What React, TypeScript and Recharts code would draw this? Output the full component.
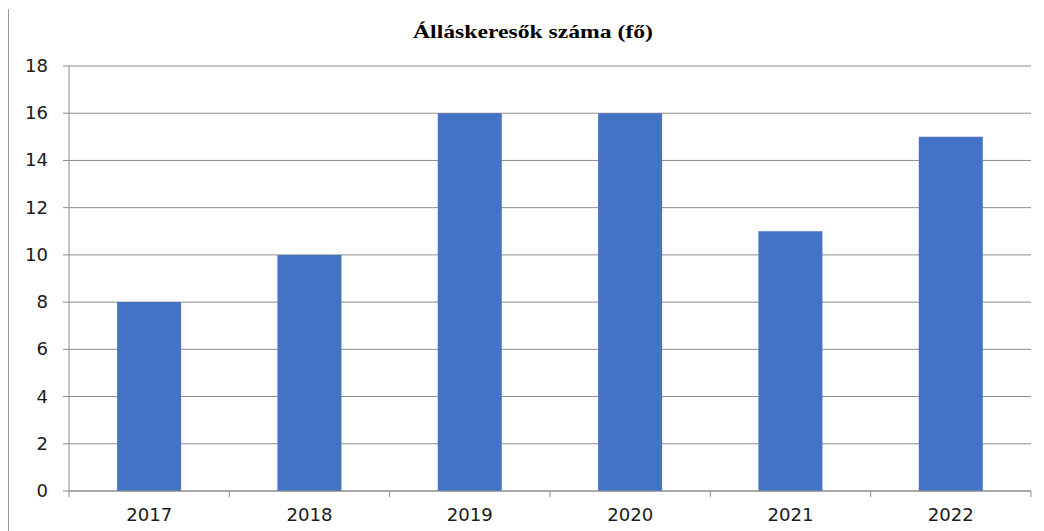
import React from "react";
import { BarChart, Bar, XAxis, YAxis, CartesianGrid } from "recharts";

const years = ["2017", "2018", "2019", "2020", "2021", "2022"];
const jobseekers = [8, 10, 16, 16, 11, 15];
const yTicks = [0, 2, 4, 6, 8, 10, 12, 14, 16, 18];
const title = "Álláskeresők száma (fő)";

const data = years.map((y, i) => ({ year: y, value: jobseekers[i] }));

const W = 1028;
const H = 523;
const M = { top: 58, right: 5, bottom: 0, left: 0 };
const Y_W = 61;
const X_H = 40;
const AXIS_Y = H - X_H;
const BAND = (W - M.right - Y_W) / years.length;
const GRID = "#8c8c8c";
const FONT = "'DejaVu Sans', Verdana, sans-serif";

const XTick = (props: any) => {
  const { x, payload, index } = props;
  return (
    <g>
      <line x1={x - BAND / 2} x2={x - BAND / 2} y1={AXIS_Y} y2={AXIS_Y + 6} stroke={GRID} />
      {index === years.length - 1 && (
        <line x1={x + BAND / 2} x2={x + BAND / 2} y1={AXIS_Y} y2={AXIS_Y + 6} stroke={GRID} />
      )}
      <text
        x={x}
        y={513}
        textAnchor="middle"
        fontSize={17}
        fontFamily={FONT}
        fill="#1a1a1a"
        textLength={46}
        lengthAdjust="spacingAndGlyphs"
      >
        {payload.value}
      </text>
    </g>
  );
};

const YTick = (props: any) => {
  const { x, y, payload } = props;
  const s = String(payload.value);
  return (
    <text
      x={x}
      y={y}
      dy="0.355em"
      textAnchor="end"
      fontSize={17}
      fontFamily={FONT}
      fill="#1a1a1a"
      textLength={s.length * 11.5}
      lengthAdjust="spacingAndGlyphs"
    >
      {s}
    </text>
  );
};

export default function App() {
  return (
    <div style={{ position: "relative", width: W, height: H }}>
      <div style={{ position: "absolute", left: 0, top: 1, width: 1, height: H - 1, background: "#9a9a9a" }} />
      <svg style={{ position: "absolute", left: 0, top: 0 }} width={W} height={60}>
        <text
          x={525}
          y={30}
          textAnchor="middle"
          fontSize={19}
          fontWeight="bold"
          fontFamily="'Liberation Serif', 'Times New Roman', serif"
          fill="#000"
          textLength={240}
          lengthAdjust="spacingAndGlyphs"
        >
          {title}
        </text>
      </svg>
      <BarChart width={W} height={H} data={data} margin={M} barCategoryGap="30%">
        <CartesianGrid vertical={false} stroke={GRID} strokeWidth={1} />
        <XAxis
          dataKey="year"
          height={X_H}
          axisLine={{ stroke: GRID }}
          tickLine={false}
          tick={<XTick />}
          interval={0}
        />
        <YAxis
          width={Y_W}
          domain={[0, 18]}
          ticks={yTicks}
          interval={0}
          axisLine={{ stroke: GRID }}
          tickLine={{ stroke: GRID }}
          tickSize={6}
          tickMargin={15}
          tick={<YTick />}
        />
        <Bar dataKey="value" fill="#4472C4" isAnimationActive={false} />
      </BarChart>
    </div>
  );
}
